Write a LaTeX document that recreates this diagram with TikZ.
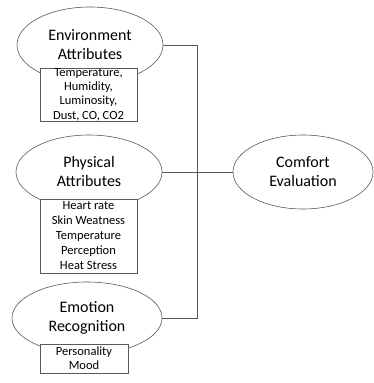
\documentclass[tikz,border=0pt]{standalone}
\usepackage{fontspec}
\setmainfont{Carlito}
\usetikzlibrary{shapes.geometric}
\begin{document}
\begin{tikzpicture}[x=1pt,y=-1pt,
  stroke/.style={draw=black!65,line width=0.6pt},
  topic/.style={ellipse,stroke,fill=white,inner sep=0pt,align=center,
    font=\fontsize{16}{19}\selectfont},
  detail/.style={rectangle,stroke,fill=white,inner sep=0pt,align=center},
  link/.style={draw=black!65,line width=0.6pt}]
\useasboundingbox (0,0) rectangle (373,383);

% junction points on the vertical bus
\coordinate (j1) at (197,45);
\coordinate (j3) at (197,318);

% topic ellipses
\node[topic,minimum width=146,minimum height=76] (env) at (90,45) {Environment\\Attributes};
\node[topic,minimum width=146,minimum height=74] (phy) at (89,172) {Physical\\Attributes};
\node[topic,minimum width=150,minimum height=72] (emo) at (87,318) {Emotion\\Recognition};
\node[topic,minimum width=140,minimum height=74] (cmf) at (303,172) {Comfort\\Evaluation};

% connectors
\draw[link] (env.east) -- (j1) -- (j3) -- (emo.east);
\draw[link] (phy.east) -- (cmf.west);

% detail boxes
\node[detail,minimum width=97,minimum height=53,font=\fontsize{12.5}{14.3}\selectfont]
  (envd) at (88.5,94.5) {Temperature,\\Humidity,\\Luminosity,\\Dust, CO, CO2};
\node[detail,minimum width=97,minimum height=74,font=\fontsize{12.5}{15}\selectfont]
  (phyd) at (88.5,236) {Heart rate\\Skin Weatness\\Temperature\\Perception\\Heat Stress};
\node[detail,minimum width=88,minimum height=29,font=\fontsize{12.5}{14}\selectfont]
  (emod) at (84,358.5) {Personality\\Mood};
\end{tikzpicture}
\end{document}
